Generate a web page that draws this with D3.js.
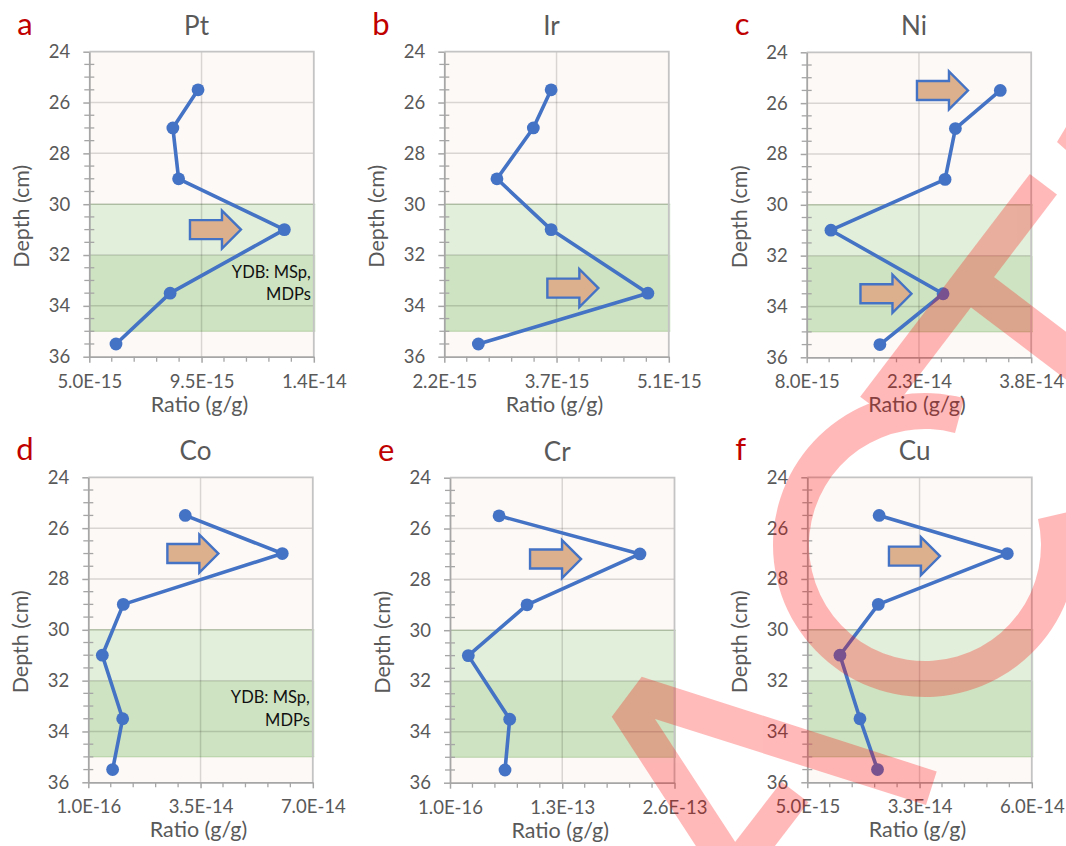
<!DOCTYPE html>
<html>
<head>
<meta charset="utf-8">
<script src="https://cdn.jsdelivr.net/npm/d3@7"></script>
<style>
  body { margin: 0; background: #ffffff; }
  svg text { font-family: Lato, "Open Sans", sans-serif; }
</style>
</head>
<body>
<svg id="chart" width="1066" height="846"></svg>
<script>
// Sample depths (cm) shared by every element profile
const depths = [25.5, 27, 29, 31, 33.5, 35.5];
const elements = ["Pt", "Ir", "Ni", "Co", "Cr", "Cu"];
const panelLetters = ["a", "b", "c", "d", "e", "f"];

// Concentration ratios (g/g) at each depth
const ptRatio = [9.36e-15, 8.35e-15, 8.58e-15, 1.282e-14, 8.24e-15, 6.07e-15];
const irRatio = [3.58e-15, 3.35e-15, 2.88e-15, 3.58e-15, 4.83e-15, 2.64e-15];
const niRatio = [3.387e-14, 2.787e-14, 2.649e-14, 1.124e-14, 2.622e-14, 1.778e-14];
const coRatio = [3.03e-14, 6.05e-14, 1.10e-14, 4.46e-15, 1.08e-14, 7.67e-15];
const crRatio = [5.69e-14, 2.20e-13, 8.93e-14, 2.13e-14, 6.92e-14, 6.38e-14];
const cuRatio = [2.26e-14, 5.40e-14, 2.24e-14, 1.30e-14, 1.79e-14, 2.22e-14];

// x-axis extents and the labels printed at min / mid / max
const axisMin = [5.0e-15, 2.2e-15, 8.0e-15, 1.0e-16, 1.0e-16, 5.0e-15];
const axisMax = [1.4e-14, 5.1e-15, 3.8e-14, 7.0e-14, 2.6e-13, 6.0e-14];
const xTickLabels = [
  ["5.0E-15", "9.5E-15", "1.4E-14"],
  ["2.2E-15", "3.7E-15", "5.1E-15"],
  ["8.0E-15", "2.3E-14", "3.8E-14"],
  ["1.0E-16", "3.5E-14", "7.0E-14"],
  ["1.0E-16", "1.3E-13", "2.6E-13"],
  ["5.0E-15", "3.3E-14", "6.0E-14"]
];
const depthTicks = [24, 26, 28, 30, 32, 34, 36];

// YDB zones (cm)
const zoneUpper = [30, 32];
const zoneLower = [32, 35];

// Peak arrows: [ratio at the arrow tip, depth] for each panel
const peakArrows = [
  [[1.108e-14, 31]],
  [[4.19e-15, 33.3]],
  [[2.955e-14, 25.5], [2.20e-14, 33.5]],
  [[4.06e-14, 27]],
  [[1.518e-13, 27.2]],
  [[3.75e-14, 27.1]]
];
const zoneNote = ["YDB: MSp,", "MDPs"];
const zoneNoteDepths = [32.65, 33.55];
const notePanels = [0, 3];

const series = [ptRatio, irRatio, niRatio, coRatio, crRatio, cuRatio];

// ---- layout ----
const W = 224.5, H = 305;
const origins = [[89.3, 51.7], [444.3, 51.7], [806.7, 52.3],
                 [88.3, 477.3], [450, 477.7], [807.3, 477.3]];
const blue = "#4472c4";
const axisGray = "#a6a6a6";
const textGray = "#595959";

const svg = d3.select("#chart");

series.forEach((vals, i) => {
  const [ox, oy] = origins[i];
  const g = svg.append("g").attr("transform", `translate(${ox},${oy})`);
  const x = d3.scaleLinear().domain([axisMin[i], axisMax[i]]).range([0, W]);
  const y = d3.scaleLinear().domain([24, 36]).range([0, H]);
  const xMid = (axisMin[i] + axisMax[i]) / 2;

  // plot background
  g.append("rect").attr("width", W).attr("height", H).attr("fill", "#fdf9f6");

  // YDB zones
  [[zoneUpper, "#e2efda"], [zoneLower, "#cee3c1"]].forEach(([z, c]) => {
    g.append("rect")
      .attr("x", 0).attr("y", y(z[0]))
      .attr("width", W + 1.5).attr("height", y(z[1]) - y(z[0]))
      .attr("fill", c);
  });
  g.append("g").selectAll("line")
    .data([zoneUpper[0], zoneLower[1]])
    .join("line")
    .attr("x1", 0).attr("x2", W + 1.5)
    .attr("y1", d => y(d)).attr("y2", d => y(d))
    .attr("stroke", "rgba(110,160,80,0.35)").attr("stroke-width", 1);

  // gridlines
  g.append("g").selectAll("line")
    .data(depthTicks.slice(1, -1))
    .join("line")
    .attr("x1", 0).attr("x2", W)
    .attr("y1", d => y(d)).attr("y2", d => y(d))
    .attr("stroke", "rgba(0,0,0,0.14)").attr("stroke-width", 1.5);
  g.append("line")
    .attr("x1", x(xMid)).attr("x2", x(xMid))
    .attr("y1", 0).attr("y2", H)
    .attr("stroke", "rgba(0,0,0,0.14)").attr("stroke-width", 1.5);

  // plot-area border (top and right)
  g.append("path")
    .attr("d", `M0,0H${W}V${H}`)
    .attr("fill", "none").attr("stroke", "#c4c4c4").attr("stroke-width", 1.8);

  // depth axis
  const yAxis = g.append("g").call(
    d3.axisLeft(y).tickValues(depthTicks).tickSize(6).tickSizeOuter(0).tickPadding(13)
  );
  yAxis.select(".domain").attr("stroke", axisGray).attr("stroke-width", 1.8);
  yAxis.selectAll(".tick line").attr("stroke", axisGray).attr("stroke-width", 1.5);
  yAxis.selectAll(".tick text")
    .attr("fill", textGray).style("font-size", "18.5px").style("font-family", "Lato");
  const minorDepths = d3.range(24, 36.01, 0.5).filter(d => d % 2 !== 0);
  g.append("g").selectAll("line")
    .data(minorDepths)
    .join("line")
    .attr("x1", -5).attr("x2", 5)
    .attr("y1", d => y(d)).attr("y2", d => y(d))
    .attr("stroke", axisGray).attr("stroke-width", 1.3);

  // ratio axis
  const xAxis = g.append("g").attr("transform", `translate(0,${H})`).call(
    d3.axisBottom(x)
      .tickValues([axisMin[i], xMid, axisMax[i]])
      .tickFormat((d, k) => xTickLabels[i][k])
      .tickSize(6).tickSizeOuter(0).tickPadding(12)
  );
  xAxis.select(".domain").attr("stroke", axisGray).attr("stroke-width", 1.8);
  xAxis.selectAll(".tick line").attr("stroke", axisGray).attr("stroke-width", 1.5);
  xAxis.selectAll(".tick text")
    .attr("fill", textGray).style("font-size", "18.5px").style("font-family", "Lato");
  const minorRatios = d3.range(1, 10).filter(k => k !== 5)
    .map(k => axisMin[i] + k * (axisMax[i] - axisMin[i]) / 10);
  g.append("g").selectAll("line")
    .data(minorRatios)
    .join("line")
    .attr("x1", d => x(d)).attr("x2", d => x(d))
    .attr("y1", H).attr("y2", H + 5)
    .attr("stroke", axisGray).attr("stroke-width", 1.3);

  // profile line + markers
  const pts = vals.map((v, k) => ({ v, depth: depths[k] }));
  g.append("path")
    .datum(pts)
    .attr("d", d3.line().x(d => x(d.v)).y(d => y(d.depth)))
    .attr("fill", "none").attr("stroke", blue)
    .attr("stroke-width", 3.6).attr("stroke-linejoin", "round");
  g.append("g").selectAll("circle")
    .data(pts)
    .join("circle")
    .attr("cx", d => x(d.v)).attr("cy", d => y(d.depth))
    .attr("r", 6.4).attr("fill", blue);

  // zone note
  if (notePanels.includes(i)) {
    g.append("g").selectAll("text")
      .data(zoneNote)
      .join("text")
      .attr("x", W - 3)
      .attr("y", (d, k) => y(zoneNoteDepths[k]) + 6)
      .attr("text-anchor", "end")
      .attr("fill", "#111")
      .style("font-size", "16.5px")
      .text(d => d);
  }

  // peak arrows
  peakArrows[i].forEach(([v, dep]) => {
    const tx = x(v), ty = y(dep);
    const p = d3.path();
    p.moveTo(tx - 51, ty - 9.5);
    p.lineTo(tx - 19, ty - 9.5);
    p.lineTo(tx - 19, ty - 19);
    p.lineTo(tx, ty);
    p.lineTo(tx - 19, ty + 19);
    p.lineTo(tx - 19, ty + 9.5);
    p.lineTo(tx - 51, ty + 9.5);
    p.closePath();
    g.append("path").attr("d", p.toString())
      .attr("fill", "#dcb08d").attr("stroke", blue)
      .attr("stroke-width", 2.4).attr("stroke-linejoin", "miter");
  });

  // titles
  g.append("text")
    .attr("x", W / 2 - 5).attr("y", -17)
    .attr("text-anchor", "middle").attr("fill", textGray)
    .style("font-size", "26px")
    .text(elements[i]);
  g.append("text")
    .attr("x", -72).attr("y", -17)
    .attr("fill", "#c00000")
    .style("font-size", "31px")
    .text(panelLetters[i]);
  g.append("text")
    .attr("x", W / 2 - 2).attr("y", H + 55)
    .attr("text-anchor", "middle").attr("fill", textGray)
    .style("font-size", "21.5px")
    .text("Ratio (g/g)");
  g.append("text")
    .attr("transform", `translate(-60,${H / 2 + 12}) rotate(-90)`)
    .attr("text-anchor", "middle").attr("fill", textGray)
    .style("font-size", "21.5px")
    .text("Depth (cm)");
});

// ---- translucent red stamp laid over the figure ----
function band(x1, y1, x2, y2, w) {
  const dx = x2 - x1, dy = y2 - y1, L = Math.hypot(dx, dy);
  const nx = -dy / L * w / 2, ny = dx / L * w / 2;
  return [[x1 + nx, y1 + ny], [x2 + nx, y2 + ny], [x2 - nx, y2 - ny], [x1 - nx, y1 - ny]];
}
const stamp = svg.append("g").attr("opacity", 0.27).attr("fill", "#ff0000");
const deg = Math.PI / 180;
stamp.append("path")
  .attr("transform", "translate(925,545)")
  .attr("d", d3.arc()({ innerRadius: 116, outerRadius: 152, startAngle: 77 * deg, endAngle: 375 * deg }));
const poly = pts => "M" + pts.map(p => p.join(",")).join("L") + "Z";
stamp.append("path").attr("d", poly(band(1043.4, 184.2, 873.7, 407, 34)));
stamp.append("path").attr("d", poly(band(969, 282, 1110, 389, 38)));
stamp.append("path").attr("d", poly([[1057, 142], [1081, 102], [1100, 102], [1100, 174], [1093, 174]]));
stamp.append("path").attr("d", poly([[641.7, 676.7], [936.7, 771.4], [926, 805], [655, 719],
  [747, 860], [705, 860], [611.7, 716.7]]));
stamp.append("path").attr("d", poly(band(735, 870, 795, 792, 34)));
</script>
</body>
</html>
